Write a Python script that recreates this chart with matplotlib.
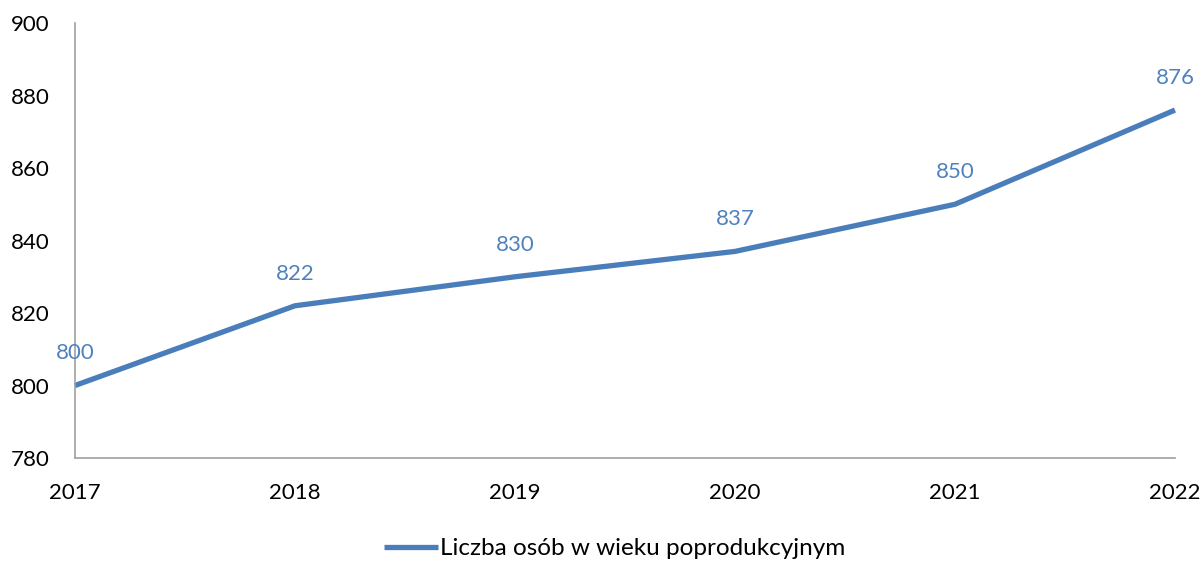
import matplotlib.pyplot as plt

plt.rcParams['font.family'] = ['Lato', 'DejaVu Sans']

years = ['2017', '2018', '2019', '2020', '2021', '2022']
values = [800, 822, 830, 837, 850, 876]
series_name = 'Liczba osób w wieku poprodukcyjnym'

line_color = '#4a7ebb'
label_color = '#4f81bd'

fig = plt.figure(figsize=(12.03, 5.62), dpi=100)
ax = fig.add_axes([0.0623, 0.185, 0.9144, 0.774])

x = list(range(len(years)))
ax.plot(x, values, color=line_color, linewidth=3.8, solid_capstyle='butt',
        label=series_name, clip_on=False)

for xi, v in zip(x, values):
    ax.annotate(str(v), (xi, v), textcoords='offset points', xytext=(0, 16),
                ha='center', va='bottom', color=label_color, fontsize=16)

ax.set_xlim(0, len(years) - 1)
ax.set_ylim(780, 900)
ax.set_yticks(range(780, 901, 20))
ax.set_xticks(x)
ax.set_xticklabels(years)
ax.tick_params(length=0, labelsize=16, colors='black')
ax.tick_params(axis='y', pad=18)
ax.tick_params(axis='x', pad=18)

for side in ['top', 'right']:
    ax.spines[side].set_visible(False)
for side in ['left', 'bottom']:
    ax.spines[side].set_color('#a0a0a0')
    ax.spines[side].set_linewidth(1.2)

fig.legend(loc='center', bbox_to_anchor=(0.511, 0.024), frameon=False,
           fontsize=17.5, handlelength=2.2, handletextpad=0.1)

plt.savefig('out.png', dpi=100)
plt.close()
